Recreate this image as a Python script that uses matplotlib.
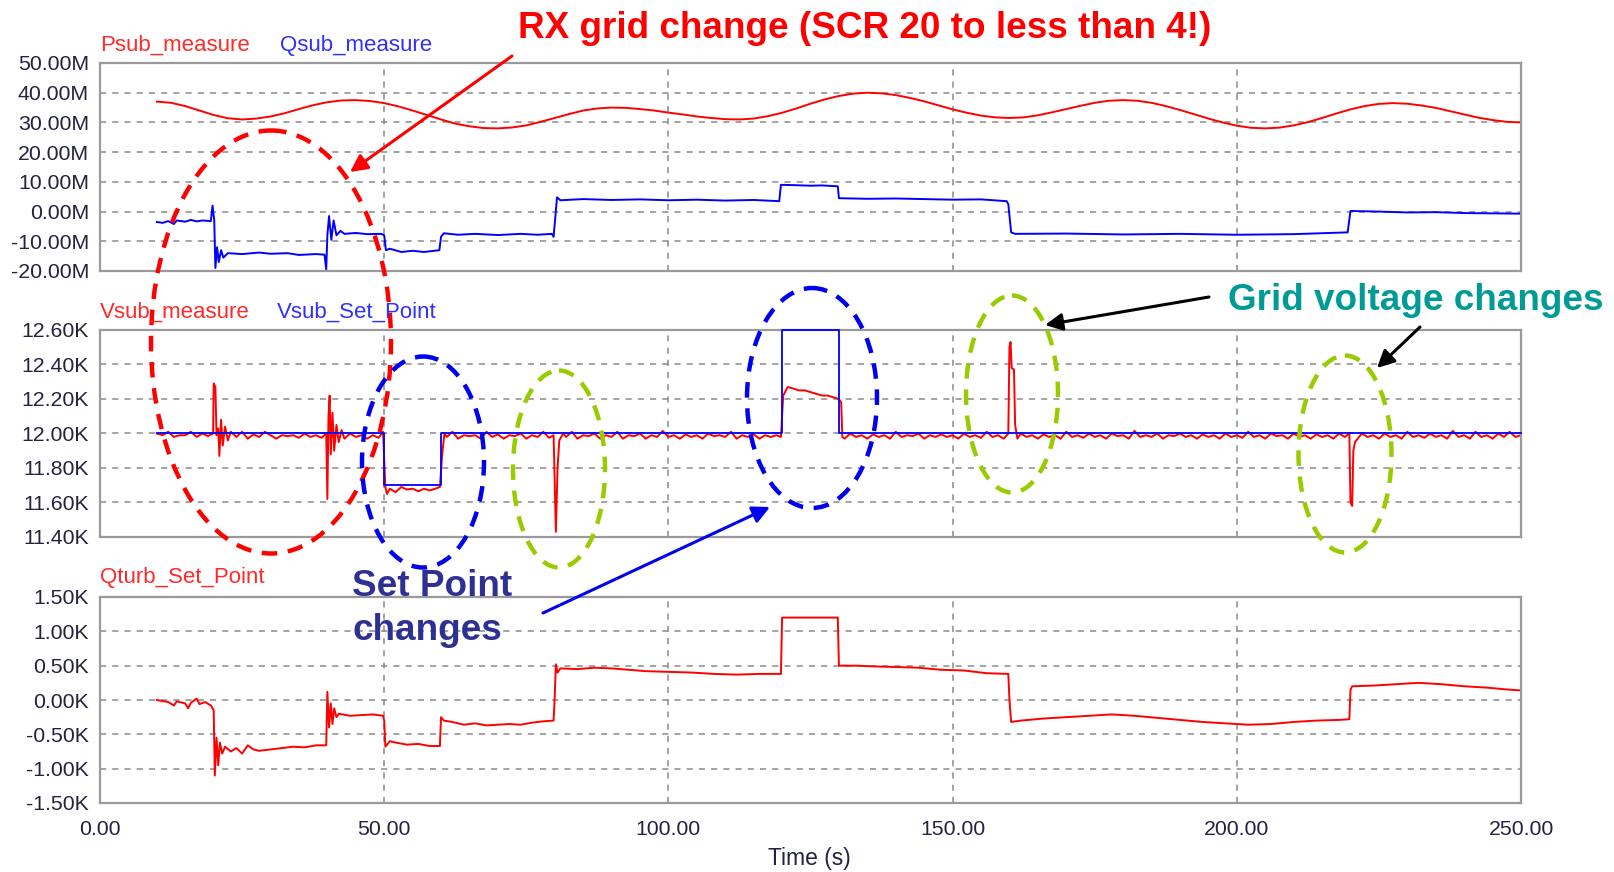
import numpy as np
import matplotlib
matplotlib.use("Agg")
import matplotlib.pyplot as plt
from matplotlib.patches import Ellipse
from matplotlib.ticker import FuncFormatter

plt.rcParams['font.family'] = ['Liberation Sans', 'DejaVu Sans']

# ---------------- data ----------------
# Psub_measure, MW, sampled every 2.5 s from 10 s to 250 s
psub_t = np.arange(10, 250.1, 2.5)
psub_v = [37.0, 36.6, 35.5, 34.0, 32.5, 31.4, 31.0, 31.3, 32.0, 33.1, 34.5, 35.8, 36.8, 37.4,
          37.5, 37.2, 36.5, 35.4, 34.0, 32.5, 31.0, 29.6, 28.7, 28.1, 28.0, 28.3, 29.0, 30.2,
          31.5, 32.8, 34.0, 34.7, 35.0, 34.9, 34.5, 34.0, 33.3, 32.7, 32.0, 31.5, 31.1, 31.0,
          31.3, 32.1, 33.25, 34.7, 36.3, 37.75, 38.9, 39.7, 40.0, 39.8, 39.2, 38.25, 37.1,
          35.75, 34.4, 33.25, 32.3, 31.7, 31.5, 31.7, 32.4, 33.4, 34.5, 35.6, 36.6, 37.3, 37.5,
          37.3, 36.6, 35.5, 34.2, 32.75, 31.3, 30.0, 28.9, 28.2, 28.0, 28.25, 29.0, 30.1, 31.5,
          33.0, 34.4, 35.5, 36.25, 36.5, 36.3, 35.7, 34.9, 33.8, 32.7, 31.6, 30.8, 30.2, 30.0]

# Qsub_measure, Mvar
qsub_t = [10, 11, 12, 13, 13.5, 15, 16, 17, 18, 19.5, 19.8, 20.1, 20.3, 20.6, 20.9, 21.3, 21.7,
          22.5, 25, 28, 30, 33, 35, 38, 39.5, 39.8, 40, 40.3, 40.7, 41.1, 41.6, 42.3, 43, 45,
          47, 49.5, 50, 50.3, 51, 53, 55, 57, 59.7, 60, 60.5, 63, 66, 70, 74, 77, 79.5, 79.8,
          80.1, 80.4, 81, 85, 90, 95, 100, 105, 110, 115, 119.5, 119.8, 122, 125, 127, 129.8,
          130, 135, 140, 145, 150, 155, 159.5, 159.8, 160.3, 161, 170, 180, 190, 200, 210,
          219.5, 220, 225, 230, 235, 240, 245, 250]
qsub_v = [-3.5, -3.8, -3.2, -4.2, -3.0, -3.4, -2.8, -3.3, -3.0, -3.2, 2.0, -3.0, -19.0, -12.0,
          -17.0, -13.0, -15.5, -14.0, -14.3, -13.8, -14.2, -14.0, -14.6, -14.3, -14.5, -19.5,
          -8.0, -1.5, -9.5, -3.0, -8.0, -6.5, -7.5, -7.2, -7.6, -7.5, -8.0, -13.0, -12.5, -13.6,
          -13.2, -13.6, -13.0, -8.5, -7.3, -7.8, -7.5, -7.9, -7.5, -7.8, -7.5, -8.5, -2.0, 4.8,
          3.8, 4.2, 3.9, 4.1, 3.8, 4.0, 3.7, 3.9, 3.5, 9.0, 8.9, 8.7, 8.8, 8.5, 4.5, 4.3, 4.4,
          4.2, 4.0, 4.1, 3.5, 2.5, -7.0, -7.5, -7.4, -7.7, -7.5, -7.8, -7.6, -7.0, 0.2, 0.0,
          -0.3, -0.2, -0.5, -0.6, -0.7]

# Vsub_Set_Point, kV
vset_t = [10, 50, 50, 60, 60, 120, 120, 130, 130, 250]
vset_v = [12.0, 12.0, 11.7, 11.7, 12.0, 12.0, 12.6, 12.6, 12.0, 12.0]

# Vsub_measure, kV
vmeas_t = [10, 11, 12, 13, 14, 15, 16, 17, 18, 19, 19.9,
           20.0, 20.3, 20.5, 20.8, 21.0, 21.3, 21.6, 22.0, 22.5, 23, 24, 25, 26, 27, 28, 29,
           30, 31, 32, 33, 34, 35, 36, 37, 38, 39, 39.8,
           40.0, 40.2, 40.4, 40.6, 40.9, 41.2, 41.6, 42, 42.5, 43, 44, 45, 46, 47, 48, 49, 49.8,
           50.2, 50.5, 51, 52, 53, 54, 55, 56, 57, 58, 59, 59.8,
           60.2, 60.6, 61, 62, 63, 64, 65, 66, 67, 68, 69, 70, 71, 72, 73, 74, 75, 76, 77, 78,
           79, 79.8,
           80.0, 80.2, 80.5, 80.8, 81.5, 82, 83, 84, 85, 86, 87, 88, 89, 90, 91, 92, 93, 94, 95,
           96, 97, 98, 99, 100, 101, 102, 103, 104, 105, 106, 107, 108, 109, 110, 111, 112, 113,
           114, 115, 116, 117, 118, 119, 119.8,
           120.2, 121, 122, 123, 124, 125, 126, 127, 128, 129, 130, 130.4, 130.6, 131, 132, 133,
           134, 135, 136, 137, 138, 139, 140, 141, 142, 143, 144, 145, 146, 147, 148, 149, 150,
           151, 152, 153, 154, 155, 156, 157, 158, 159, 159.8,
           160.0, 160.2, 160.4, 160.8, 161.0, 161.4, 162, 163, 164, 165, 166, 167, 168, 169, 170,
           171, 172, 173, 174, 175, 176, 177, 178, 179, 180, 181, 182, 183, 184, 185, 186, 187,
           188, 189, 190, 191, 192, 193, 194, 195, 196, 197, 198, 199, 200, 201, 202, 203, 204,
           205, 206, 207, 208, 209, 210, 211, 212, 213, 214, 215, 216, 217, 218, 219, 219.8,
           220.0, 220.3, 220.5, 220.8, 221.5, 222, 223, 224, 225, 226, 227, 228, 229, 230, 231,
           232, 233, 234, 235, 236, 237, 238, 239, 240, 241, 242, 243, 244, 245, 246, 247, 248,
           249, 250]
vmeas_v = [12.00, 11.99, 12.01, 11.98, 11.99, 11.99, 12.01, 11.98, 12.00, 11.985, 12.00,
           12.29, 12.27, 11.99, 12.03, 11.87, 12.08, 11.93, 12.04, 11.96, 12.01, 11.98, 12.01,
           11.97, 11.995, 11.98, 12.01, 11.99, 11.97, 11.99, 11.985, 11.99, 11.975, 12.00, 11.98,
           11.99, 11.975, 12.00,
           11.62, 12.10, 12.22, 11.88, 12.12, 11.90, 12.05, 11.95, 12.02, 11.97, 12.00, 11.98,
           11.99, 11.97, 11.99, 11.975, 12.01,
           11.69, 11.65, 11.68, 11.66, 11.69, 11.675, 11.68, 11.665, 11.68, 11.67, 11.68, 11.69,
           11.88, 12.00, 11.98, 12.01, 11.97, 11.99, 11.985, 11.99, 11.97, 12.01, 11.98, 11.995,
           11.97, 11.99, 11.985, 12.00, 11.97, 11.99, 11.98, 12.01, 11.975, 11.99,
           11.70, 11.43, 11.80, 11.96, 12.00, 11.98, 12.01, 11.97, 11.99, 11.985, 12.00, 11.97,
           11.99, 11.98, 12.01, 11.97, 11.99, 11.985, 12.00, 11.97, 11.99, 11.98, 12.015, 11.98,
           11.99, 11.97, 11.995, 11.98, 11.99, 11.97, 12.00, 11.985, 11.99, 11.98, 12.01, 11.97,
           11.99, 11.98, 11.995, 11.97, 11.99, 11.98, 11.99, 11.98,
           12.22, 12.27, 12.26, 12.25, 12.25, 12.24, 12.23, 12.22, 12.22, 12.21, 12.20, 12.18,
           11.98, 11.97, 12.00, 11.98, 11.99, 11.97, 11.995, 11.98, 11.99, 11.97, 12.01, 11.98,
           11.99, 11.985, 12.00, 11.97, 11.99, 11.98, 11.995, 11.98, 11.99, 11.97, 12.00, 11.98,
           11.99, 11.975, 12.01, 11.98, 11.99, 11.97, 12.00,
           12.50, 12.53, 12.38, 12.37, 12.05, 11.97, 12.00, 11.98, 11.99, 11.97, 11.995, 11.98,
           11.99, 11.97, 12.01, 11.98, 11.99, 11.975, 12.00, 11.98, 11.99, 11.97, 12.00, 11.985,
           11.99, 11.97, 12.015, 11.98, 11.99, 11.98, 12.00, 11.97, 11.99, 11.985, 12.00, 11.98,
           11.99, 11.97, 11.995, 11.98, 11.99, 11.97, 12.00, 11.98, 11.99, 11.975, 12.01, 11.98,
           11.99, 11.97, 12.00, 11.985, 11.99, 11.97, 12.00, 11.98, 11.99, 11.97, 11.995, 11.98,
           11.99, 11.97, 12.00, 11.98, 12.00,
           11.60, 11.58, 11.90, 11.95, 11.98, 12.00, 11.98, 11.99, 11.97, 12.00, 11.98, 11.99,
           11.97, 12.01, 11.98, 11.99, 11.975, 12.00, 11.98, 11.99, 11.97, 12.015, 11.98, 11.99,
           11.97, 12.01, 11.98, 11.99, 11.97, 12.00, 11.98, 12.01, 11.98, 11.99]

# Qturb_Set_Point, kvar
qturb_t = [10, 12, 13, 13.5, 15, 15.5, 16, 17, 17.5, 18.5, 19.5, 20, 20.2, 20.5, 20.8, 21.1,
           21.5, 22, 23, 24, 25, 26, 27, 28, 30, 32, 34, 36, 38, 39.8, 40, 40.3, 40.6, 40.9,
           41.2, 41.6, 42, 44, 46, 48, 49.8, 50, 50.2, 51, 52, 54, 56, 58, 59.8, 60, 60.5, 62,
           64, 66, 68, 70, 72, 74, 76, 78, 79.8, 80, 80.2, 80.5, 81, 84, 87, 90, 93, 96, 100,
           104, 108, 112, 116, 119.8, 120, 129.8, 130, 133, 136, 140, 144, 148, 152, 156, 159.8,
           160, 160.3, 162, 166, 170, 174, 178, 182, 186, 190, 194, 198, 202, 206, 210, 214,
           218, 219.8, 220, 220.3, 224, 228, 232, 236, 240, 244, 248, 250]
qturb_v = [0.00, -0.03, -0.08, -0.02, -0.05, -0.12, -0.04, 0.02, -0.06, -0.03, -0.08, -0.15,
           -1.10, -0.55, -0.95, -0.62, -0.78, -0.68, -0.75, -0.70, -0.78, -0.66, -0.72, -0.74,
           -0.72, -0.70, -0.68, -0.69, -0.66, -0.66, 0.12, -0.40, -0.05, -0.35, -0.12, -0.25,
           -0.20, -0.23, -0.22, -0.21, -0.23, -0.30, -0.68, -0.60, -0.62, -0.65, -0.64, -0.67,
           -0.67, -0.25, -0.30, -0.32, -0.36, -0.34, -0.37, -0.36, -0.35, -0.36, -0.33, -0.31,
           -0.30, 0.05, 0.52, 0.40, 0.46, 0.45, 0.47, 0.46, 0.44, 0.42, 0.41, 0.40, 0.38, 0.37,
           0.38, 0.38, 1.20, 1.20, 0.50, 0.50, 0.49, 0.48, 0.47, 0.44, 0.43, 0.39, 0.38, 0.00,
           -0.32, -0.30, -0.27, -0.25, -0.23, -0.21, -0.23, -0.26, -0.29, -0.32, -0.34, -0.36,
           -0.35, -0.32, -0.30, -0.29, -0.28, 0.15, 0.20, 0.21, 0.23, 0.25, 0.23, 0.20, 0.18,
           0.15, 0.14]

x_ticks = [0, 50, 100, 150, 200, 250]
p1_ticks = [-20, -10, 0, 10, 20, 30, 40, 50]
p2_ticks = [11.4, 11.6, 11.8, 12.0, 12.2, 12.4, 12.6]
p3_ticks = [-1.5, -1.0, -0.5, 0.0, 0.5, 1.0, 1.5]

RED = '#ff0000'
BLUE = '#0000ff'
LABEL = '#23233f'

W, H = 1614, 872
fig = plt.figure(figsize=(W / 100, H / 100), dpi=100)


def box(l, t, r, b):
    return [l / W, 1 - b / H, (r - l) / W, (b - t) / H]


def style(ax, ticks, unit):
    ax.set_xlim(0, 250)
    ax.set_xticks(x_ticks)
    ax.set_ylim(ticks[0], ticks[-1])
    ax.set_yticks(ticks)
    ax.yaxis.set_major_formatter(FuncFormatter(lambda v, p: f"{v + 0.0:.2f}{unit}".replace('-0.00', '0.00')))
    ax.grid(True, color='#8a8a8a', linestyle=(0, (4, 4)), linewidth=1.1)
    for s in ax.spines.values():
        s.set_color('#9a9a9a')
        s.set_linewidth(1.6)
    ax.tick_params(length=0, labelsize=15.3, labelcolor=LABEL, pad=8)


ax1 = fig.add_axes(box(100, 63, 1521, 271))
ax2 = fig.add_axes(box(100, 330, 1521, 537))
ax3 = fig.add_axes(box(100, 597, 1521, 803))

ax1.plot(psub_t, psub_v, color=RED, lw=1.4)
ax1.plot(qsub_t, qsub_v, color=BLUE, lw=1.4)
style(ax1, p1_ticks, 'M')

ax2.plot(vmeas_t, vmeas_v, color=RED, lw=1.4)
ax2.plot(vset_t, vset_v, color=BLUE, lw=1.3, clip_on=False, zorder=3)
style(ax2, p2_ticks, 'K')

ax3.plot(qturb_t, qturb_v, color=RED, lw=1.4)
style(ax3, p3_ticks, 'K')

ax1.tick_params(labelbottom=False)
ax2.tick_params(labelbottom=False)
ax3.xaxis.set_major_formatter(FuncFormatter(lambda v, p: f"{v:.2f}"))
ax3.tick_params(axis='x', pad=12)

# ---------------- overlay in pixel coordinates ----------------
ov = fig.add_axes([0, 0, 1, 1])
ov.set_xlim(0, W)
ov.set_ylim(H, 0)
ov.axis('off')
ov.patch.set_visible(False)

fig.text(809 / W, 1 - 858 / H, 'Time (s)', ha='center', va='center', fontsize=16.5, color=LABEL)

series_labels = [(100, 45, 'Psub_measure', '#ff2a2a'), (280, 45, 'Qsub_measure', '#3030ff'),
                 (100, 312, 'Vsub_measure', '#ff2a2a'), (277, 312, 'Vsub_Set_Point', '#3030ff'),
                 (100, 577, 'Qturb_Set_Point', '#ff2a2a')]
for x, y, s, c in series_labels:
    ov.text(x, y, s, color=c, fontsize=16, ha='left', va='center')

dash = (0, (3.5, 2.4))
ellipses = [((271, 342), 240, 423, RED), ((423, 462), 122, 211, '#0000ee'),
            ((812, 398), 130, 220, '#0000ee'), ((559, 469), 92, 197, '#99cc00'),
            ((1012, 394), 92, 197, '#99cc00'), ((1345, 454), 93, 197, '#99cc00')]
for c, w, h, col in ellipses:
    ov.add_patch(Ellipse(c, w, h, fill=False, edgecolor=col, lw=3.2, linestyle=dash))

arrows = [((512, 56), (350, 172), RED), ((1209, 297), (1045, 325), 'black'),
          ((1420, 327), (1377, 368), 'black'), ((543, 613), (770, 507), '#0000ee')]
for tail, head, col in arrows:
    ov.annotate('', xy=head, xytext=tail,
                arrowprops=dict(arrowstyle='-|>', color=col, lw=2.2, mutation_scale=26,
                                shrinkA=0, shrinkB=0))

ov.text(518, 28, 'RX grid change (SCR 20 to less than 4!)', color=RED, fontsize=26.6,
        fontweight='bold', ha='left', va='center')
ov.text(1228, 300, 'Grid voltage changes', color='#009b95', fontsize=26.6,
        fontweight='bold', ha='left', va='center')
ov.text(352, 586, 'Set Point', color='#2e3192', fontsize=26.6, fontweight='bold',
        ha='left', va='center')
ov.text(352, 630, 'changes', color='#2e3192', fontsize=26.6, fontweight='bold',
        ha='left', va='center')

fig.savefig('out.png', dpi=100)
